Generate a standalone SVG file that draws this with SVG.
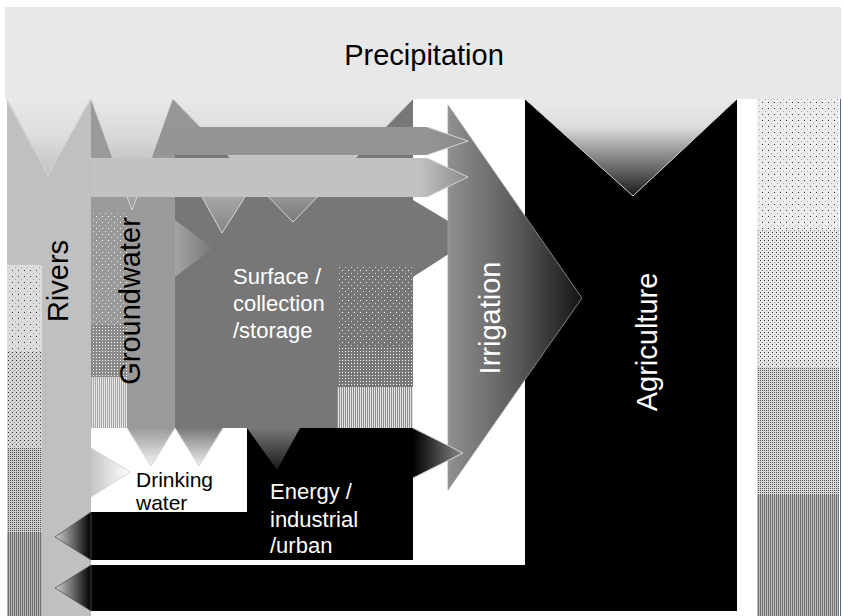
<svg xmlns="http://www.w3.org/2000/svg" width="843" height="616" viewBox="0 0 843 616">
<style>
.lbl{font-family:"Liberation Sans",Arial,sans-serif;}
.big{font-size:29px;}
.sm{font-size:22px;}
.dw{font-size:21px;}
.w{fill:#fff;}
.k{fill:#000;}
.edge{fill:none;stroke:#d4d4d4;stroke-width:1;}
</style>
<defs>
  <linearGradient id="nRiv" x1="0" y1="0" x2="0" y2="1"><stop offset="0" stop-color="#e8e8e8"/><stop offset="0.45" stop-color="#dedede"/><stop offset="1" stop-color="#c2c2c2"/></linearGradient>
  <linearGradient id="nGw" x1="0" y1="0" x2="0" y2="1"><stop offset="0" stop-color="#e8e8e8"/><stop offset="0.35" stop-color="#d8d8d8"/><stop offset="1" stop-color="#9a9a9a"/></linearGradient>
  <linearGradient id="nSurf" x1="0" y1="0" x2="0" y2="1"><stop offset="0" stop-color="#e8e8e8"/><stop offset="0.3" stop-color="#dcdcdc"/><stop offset="1" stop-color="#7a7a7a"/></linearGradient>
  <linearGradient id="nAg" x1="0" y1="0" x2="0" y2="1"><stop offset="0" stop-color="#e8e8e8"/><stop offset="0.28" stop-color="#dedede"/><stop offset="1" stop-color="#1a1a1a"/></linearGradient>
  <linearGradient id="vS" x1="0" y1="0" x2="0" y2="1"><stop offset="0" stop-color="#a6a6a6"/><stop offset="1" stop-color="#858585"/></linearGradient>
  <linearGradient id="vD1" x1="0" y1="0" x2="0" y2="1"><stop offset="0" stop-color="#9a9a9a"/><stop offset="1" stop-color="#f4f4f4"/></linearGradient>
  <linearGradient id="vD2" x1="0" y1="0" x2="0" y2="1"><stop offset="0" stop-color="#787878"/><stop offset="1" stop-color="#f0f0f0"/></linearGradient>
  <linearGradient id="vE" x1="0" y1="0" x2="0" y2="1"><stop offset="0" stop-color="#777777"/><stop offset="1" stop-color="#1a1a1a"/></linearGradient>
  <linearGradient id="aUp" gradientUnits="userSpaceOnUse" x1="427" y1="0" x2="468" y2="0"><stop offset="0" stop-color="#959595"/><stop offset="1" stop-color="#888888"/></linearGradient>
  <linearGradient id="aLo" gradientUnits="userSpaceOnUse" x1="420" y1="0" x2="468" y2="0"><stop offset="0" stop-color="#c2c2c2"/><stop offset="1" stop-color="#8a8a8a"/></linearGradient>
  <linearGradient id="hGS" gradientUnits="userSpaceOnUse" x1="175" y1="0" x2="213" y2="0"><stop offset="0" stop-color="#a4a4a4"/><stop offset="1" stop-color="#787878"/></linearGradient>
  <linearGradient id="hRD" gradientUnits="userSpaceOnUse" x1="91" y1="0" x2="130" y2="0"><stop offset="0" stop-color="#c4c4c4"/><stop offset="1" stop-color="#ffffff"/></linearGradient>
  <linearGradient id="hER" gradientUnits="userSpaceOnUse" x1="413" y1="0" x2="463" y2="0"><stop offset="0" stop-color="#000000"/><stop offset="1" stop-color="#8a8a8a"/></linearGradient>
  <linearGradient id="hL" gradientUnits="userSpaceOnUse" x1="55" y1="0" x2="91" y2="0"><stop offset="0" stop-color="#d0d0d0"/><stop offset="1" stop-color="#000000"/></linearGradient>
  <linearGradient id="gIrr" gradientUnits="userSpaceOnUse" x1="448" y1="0" x2="582" y2="0"><stop offset="0" stop-color="#909090"/><stop offset="0.5" stop-color="#5c5c5c"/><stop offset="1" stop-color="#151515"/></linearGradient>
  <pattern id="kS" width="6" height="6" patternUnits="userSpaceOnUse"><rect width="1" height="1" fill="#333"/><rect x="3" y="3" width="1" height="1" fill="#aaa"/></pattern>
  <pattern id="kM" width="4" height="4" patternUnits="userSpaceOnUse"><rect width="1" height="1" fill="#333"/><rect x="2" y="2" width="1" height="1" fill="#888"/></pattern>
  <pattern id="kC" width="2" height="2" patternUnits="userSpaceOnUse"><rect width="1" height="1" fill="#555"/></pattern>
  <pattern id="kD" width="2" height="2" patternUnits="userSpaceOnUse"><rect width="1" height="2" fill="#707070"/></pattern>
  <pattern id="wS" width="6" height="6" patternUnits="userSpaceOnUse"><rect width="1" height="1" fill="#fff"/><rect x="3" y="3" width="1" height="1" fill="#ddd"/></pattern>
  <pattern id="wM" width="3" height="3" patternUnits="userSpaceOnUse"><rect width="1" height="1" fill="#fff"/></pattern>
  <pattern id="wD" width="2" height="2" patternUnits="userSpaceOnUse"><rect width="1" height="2" fill="#e4e4e4"/></pattern>
</defs>

<rect width="843" height="616" fill="#fff"/>

<g id="precipitation">
  <rect x="5" y="7" width="836" height="92" fill="#e8e8e8"/>
  <text class="lbl big k" x="424" y="65" text-anchor="middle">Precipitation</text>
</g>

<g id="side-strip">
  <rect x="757" y="99" width="82" height="131" fill="#ececec"/>
  <rect x="757" y="99" width="82" height="131" fill="url(#kS)"/>
  <rect x="757" y="230" width="82" height="137" fill="#e6e6e6"/>
  <rect x="757" y="230" width="82" height="137" fill="url(#kM)"/>
  <rect x="757" y="367" width="82" height="128" fill="#d8d8d8"/>
  <rect x="757" y="367" width="82" height="128" fill="url(#kC)"/>
  <rect x="757" y="495" width="82" height="121" fill="#bdbdbd"/>
  <rect x="757" y="495" width="82" height="121" fill="url(#kD)"/>
  <line x1="840.5" y1="99" x2="840.5" y2="616" stroke="#5a6a8a" stroke-width="1"/>
</g>

<g id="rivers">
  <rect x="7" y="99" width="84" height="517" fill="#c0c0c0"/>
  <rect x="7" y="265" width="35" height="87" fill="#dcdcdc"/>
  <rect x="7" y="265" width="35" height="87" fill="url(#kS)"/>
  <rect x="7" y="352" width="35" height="96" fill="#d4d4d4"/>
  <rect x="7" y="352" width="35" height="96" fill="url(#kM)"/>
  <rect x="7" y="448" width="35" height="85" fill="#cacaca"/>
  <rect x="7" y="448" width="35" height="85" fill="url(#kC)"/>
  <rect x="7" y="533" width="35" height="83" fill="#b4b4b4"/>
  <rect x="7" y="533" width="35" height="83" fill="url(#kD)"/>
  <text class="lbl big k" transform="translate(68,281) rotate(-90)" text-anchor="middle">Rivers</text>
</g>

<g id="groundwater">
  <rect x="91" y="99" width="84" height="329" fill="#9a9a9a"/>
  <rect x="91" y="212" width="36" height="113" fill="url(#wS)"/>
  <rect x="91" y="325" width="36" height="52" fill="#8a8a8a"/>
  <rect x="91" y="325" width="36" height="52" fill="url(#wM)"/>
  <rect x="91" y="377" width="36" height="51" fill="#a8a8a8"/>
  <rect x="91" y="377" width="36" height="51" fill="url(#wD)"/>
  <text class="lbl big k" transform="translate(140,301) rotate(-90)" text-anchor="middle">Groundwater</text>
</g>

<g id="surface">
  <polygon points="175,99 413,99 413,200 475,237 413,277 413,428 175,428" fill="#777777"/>
  <rect x="337" y="265" width="76" height="82" fill="url(#wS)"/>
  <rect x="337" y="347" width="76" height="40" fill="url(#wM)"/>
  <rect x="337" y="387" width="76" height="41" fill="#8c8c8c"/>
  <rect x="337" y="387" width="76" height="41" fill="url(#wD)"/>
  <text class="lbl sm w" x="233" y="284">Surface /</text>
  <text class="lbl sm w" x="233" y="311">collection</text>
  <text class="lbl sm w" x="233" y="338">/storage</text>
</g>

<g id="agriculture">
  <polygon points="525,99 737,99 737,611 91,611 91,565 525,565" fill="#000"/>
  <text class="lbl big w" transform="translate(657,342) rotate(-90)" text-anchor="middle">Agriculture</text>
</g>

<g id="irrigation">
  <polygon points="448,105 582,298 448,490" fill="url(#gIrr)" stroke="#a0a0a0" stroke-width="0.8"/>
  <text class="lbl big w" transform="translate(500,318) rotate(-90)" text-anchor="middle">Irrigation</text>
</g>

<g id="drinking-water">
  <rect x="91" y="428" width="156" height="84" fill="#fff"/>
  <text class="lbl dw k" x="136" y="486.5">Drinking</text>
  <text class="lbl dw k" x="136" y="510">water</text>
</g>

<g id="energy">
  <polygon points="247,428 413,428 413,560 91,560 91,512 247,512" fill="#000"/>
  <text class="lbl sm w" x="270" y="499">Energy /</text>
  <text class="lbl sm w" x="270" y="527">industrial</text>
  <text class="lbl sm w" x="270" y="553">/urban</text>
</g>

<g id="connectors">
  <polygon points="7,99 48,175 91,99" fill="url(#nRiv)"/>
  <polyline class="edge" points="7,101 48,175 90,99"/>
  <polygon points="91,99 132,210 173,99" fill="url(#nGw)"/>
  <polyline class="edge" points="91,99 132,210 173,99"/>
  <polygon points="173,99 201,127 163,127" fill="#979797"/>
  <polygon points="173,99 293,222 413,99" fill="url(#nSurf)"/>
  <polyline class="edge" points="173,99 293,222 413,99"/>
  <polygon points="525,99 633,196 737,99" fill="url(#nAg)"/>
  <polyline class="edge" points="525,99 633,196 737,99" stroke="#b8b8b8"/>
  <polygon points="202,197 222,233 245,197" fill="url(#vS)"/>
  <polyline class="edge" points="202,197 222,233 245,197"/>
  <polygon points="163,127 427,127 468,141 427,155 153,155" fill="url(#aUp)"/>
  <polyline class="edge" points="427,127 468,141 427,155"/>
  <polygon points="91,158 427,158 468,177 427,197 91,197" fill="url(#aLo)"/>
  <polyline class="edge" points="427,158 468,177 427,197"/>
  <polygon points="175,220 213,248 175,277" fill="url(#hGS)"/>
  <polygon points="91,448 130,472 91,497" fill="url(#hRD)"/>
  <polyline class="edge" points="91,448 130,472 91,497"/>
  <polygon points="127,428 151,466 175,428" fill="url(#vD1)"/>
  <polyline class="edge" points="127,428 151,466 175,428"/>
  <polygon points="175,428 199,466 223,428" fill="url(#vD2)"/>
  <polyline class="edge" points="175,428 199,466 223,428"/>
  <polygon points="247,428 277,470 300,428" fill="url(#vE)"/>
  <polygon points="413,428 463,453 413,478" fill="url(#hER)"/>
  <polyline class="edge" points="413,428 463,453 413,478" stroke="#9a9a9a"/>
  <polygon points="91,512 55,537 91,560" fill="url(#hL)" stroke="#555" stroke-width="0.8"/>
  <polygon points="91,565 55,588 91,611" fill="url(#hL)" stroke="#555" stroke-width="0.8"/>
</g>
</svg>
